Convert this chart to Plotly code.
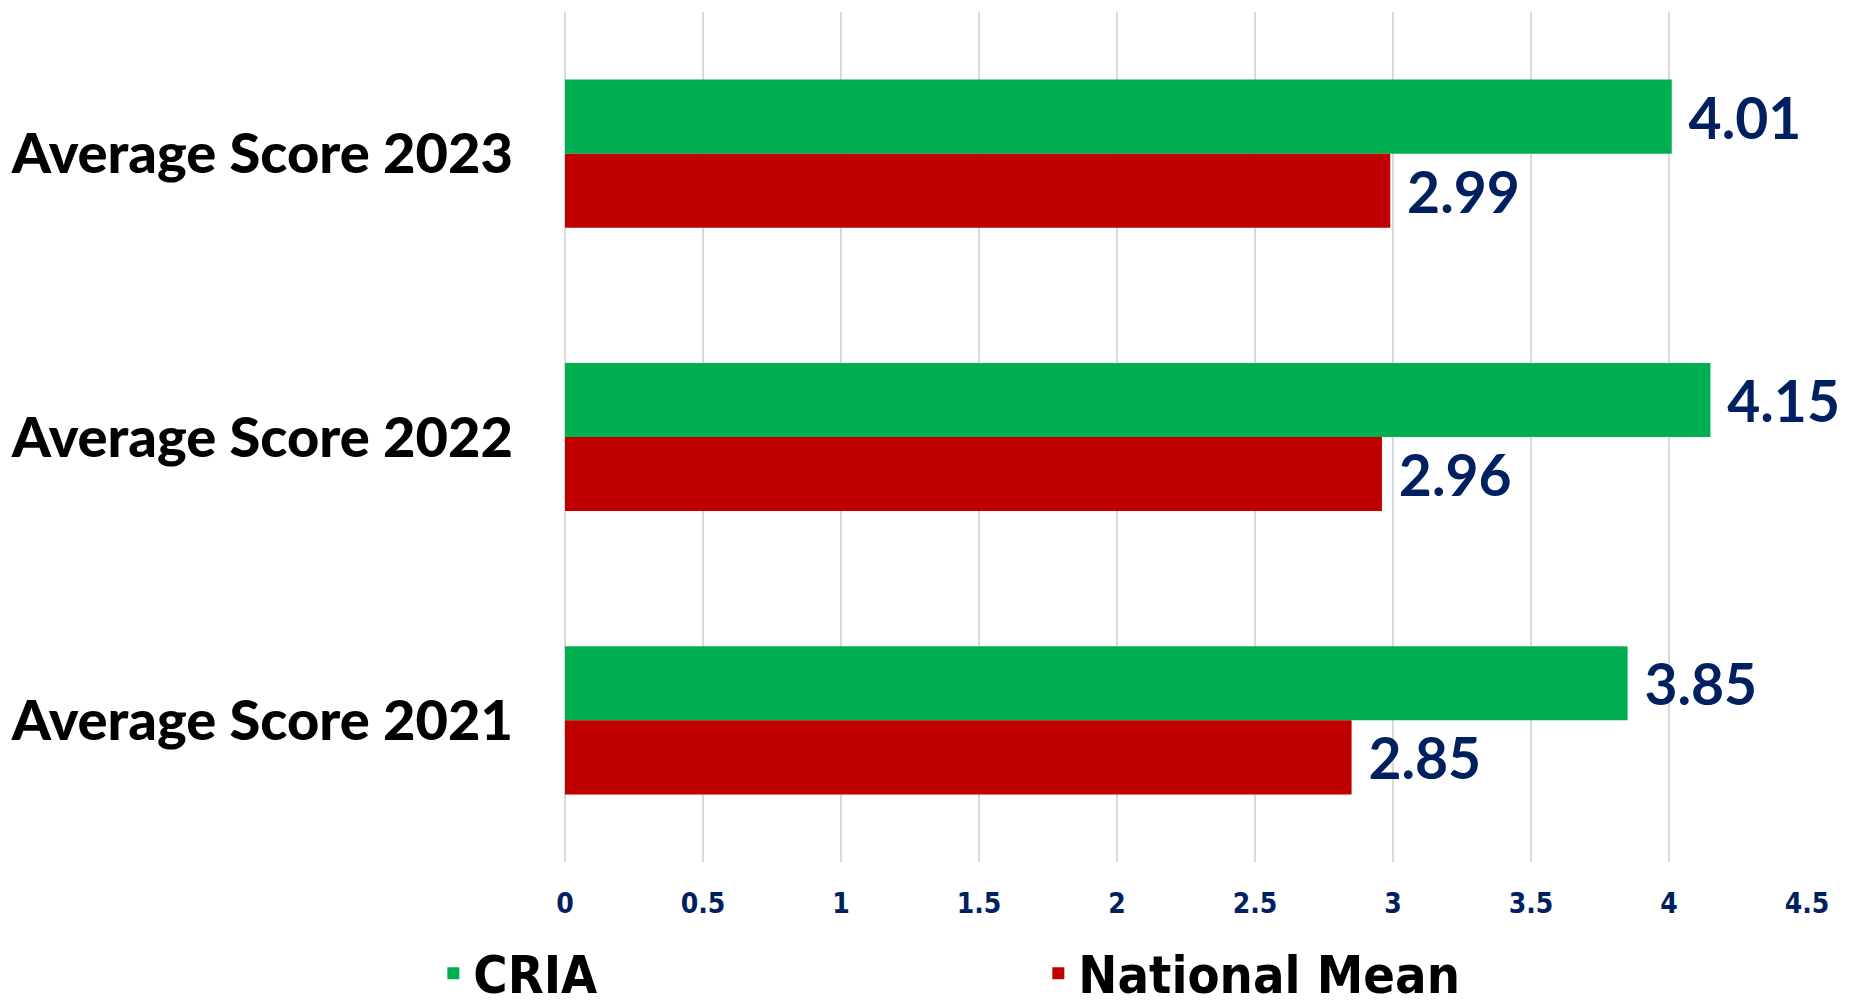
import plotly.graph_objects as go

# data
categories = ['Average Score 2023', 'Average Score 2022', 'Average Score 2021']
cria = [4.01, 4.15, 3.85]
national = [2.99, 2.96, 2.85]
x_ticks = [0, 0.5, 1, 1.5, 2, 2.5, 3, 3.5, 4, 4.5]

NAVY = '#002060'
LABEL_FONT = dict(family='Lato, Open Sans, sans-serif', size=57, color=NAVY, weight='bold')
NARROW = 'Liberation Sans Narrow, DejaVu Sans Condensed, sans-serif'

fig = go.Figure()
fig.add_trace(go.Bar(
    name='CRIA', y=categories, x=cria, orientation='h',
    marker=dict(color='#00B050', line=dict(width=0)),
    text=cria, texttemplate='\u00a0%{x:.2f}', textposition='outside',
    textfont=LABEL_FONT, constraintext='none', cliponaxis=False,
    hoverinfo='skip'))
fig.add_trace(go.Bar(
    name='National Mean', y=categories, x=national, orientation='h',
    marker=dict(color='#C00000', line=dict(width=0)),
    text=national, texttemplate='\u00a0%{x:.2f}', textposition='outside',
    textfont=LABEL_FONT, constraintext='none', cliponaxis=False,
    hoverinfo='skip'))

fig.update_layout(
    width=1851, height=1005,
    margin=dict(l=557, r=52, t=4, b=151, autoexpand=False),
    paper_bgcolor='white', plot_bgcolor='white',
    barmode='group', bargap=0.477, bargroupgap=0,
    font=dict(family='Lato, Open Sans, sans-serif', color='black'),
    legend=dict(
        orientation='h', x=-0.106, xanchor='left', y=-0.131, yanchor='middle',
        font=dict(family=NARROW, size=52, color='black', weight='bold'),
        entrywidth=560, entrywidthmode='pixels',
        bgcolor='rgba(0,0,0,0)'),
    showlegend=True,
)
fig.update_xaxes(
    range=[0, 4.5], tickvals=x_ticks, ticktext=[f'{v:g}' for v in x_ticks],
    showgrid=True, gridcolor='#D9D9D9', gridwidth=2,
    zeroline=True, zerolinecolor='#D9D9D9', zerolinewidth=2,
    showline=False, ticks='', ticklabelstandoff=22,
    tickfont=dict(family=NARROW, size=28, color=NAVY, weight='bold'))
fig.update_yaxes(
    categoryorder='array', categoryarray=categories, autorange='reversed',
    showgrid=False, zeroline=False, showline=False, ticks='',
    ticklabelstandoff=51,
    tickfont=dict(family='Lato, Open Sans, sans-serif', size=56, color='black', weight=900))

fig.write_html('out.html')
